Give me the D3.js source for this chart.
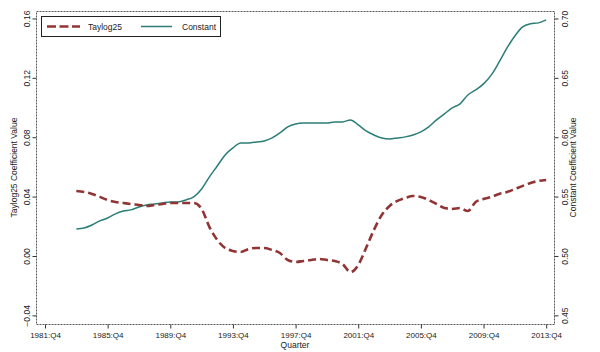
<!DOCTYPE html>
<html>
<head>
<meta charset="utf-8">
<script src="https://cdn.jsdelivr.net/npm/d3@7"></script>
<style>
  body { margin: 0; background: #fff; }
  text { font-family: "Liberation Sans", Arial, sans-serif; fill: #222; }
</style>
</head>
<body>
<script>
var w = 600;
var h = 352;

// half-yearly observations, 1983:Q4 through 2013:Q4 (Q4 and Q2 of each year)
var firstQuarter = "1983:Q4";
var taylog25 = [
  0.0438, 0.0431, 0.0418, 0.0398, 0.0377, 0.0364, 0.0357, 0.0350, 0.0344, 0.0337,
  0.0344, 0.0350, 0.0357, 0.0357, 0.0357, 0.0357, 0.0317, 0.0195, 0.0108, 0.0054,
  0.0034, 0.0027, 0.0047, 0.0054, 0.0054, 0.0040, 0.0020, -0.0027, -0.0040, -0.0034,
  -0.0027, -0.0020, -0.0027, -0.0034, -0.0054, -0.0108, -0.0061, 0.0054, 0.0175, 0.0276,
  0.0337, 0.0371, 0.0391, 0.0404, 0.0398, 0.0377, 0.0350, 0.0323, 0.0317, 0.0323,
  0.0303, 0.0364, 0.0384, 0.0398, 0.0418, 0.0431, 0.0451, 0.0472, 0.0492, 0.0505,
  0.0512
];
var constant = [
  0.5227, 0.5236, 0.5261, 0.5295, 0.5320, 0.5354, 0.5379, 0.5388, 0.5413, 0.5430,
  0.5438, 0.5447, 0.5455, 0.5455, 0.5472, 0.5497, 0.5564, 0.5666, 0.5758, 0.5851,
  0.5910, 0.5952, 0.5952, 0.5960, 0.5969, 0.5994, 0.6036, 0.6087, 0.6112, 0.6120,
  0.6120, 0.6120, 0.6120, 0.6129, 0.6129, 0.6146, 0.6104, 0.6053, 0.6019, 0.5994,
  0.5986, 0.5994, 0.6003, 0.6019, 0.6045, 0.6087, 0.6146, 0.6196, 0.6247, 0.6281,
  0.6356, 0.6398, 0.6449, 0.6525, 0.6634, 0.6752, 0.6853, 0.6929, 0.6955, 0.6963,
  0.6988
];

var xTickLabels = ["1981:Q4", "1985:Q4", "1989:Q4", "1993:Q4", "1997:Q4",
                   "2001:Q4", "2005:Q4", "2009:Q4", "2013:Q4"];
var leftTicks = [-0.04, 0.00, 0.04, 0.08, 0.12, 0.16];
var rightTicks = [0.45, 0.50, 0.55, 0.60, 0.65, 0.70];

// quarter string -> number of quarters since 1981:Q4
function qIndex(s) {
  var p = s.split(":Q");
  return (+p[0] - 1981) * 4 + (+p[1] - 4);
}

var q0 = qIndex(firstQuarter);
var dataset = taylog25.map(function(v, i) {
  return { q: q0 + i * 2, taylog: v, constant: constant[i] };
});

var pLeft = 36, pRight = 554, pTop = 11, pBottom = 324;

var svg = d3.select("body").append("svg")
  .attr("width", w)
  .attr("height", h);

var xScale = d3.scaleLinear()
  .domain([-2.3, 130])
  .range([pLeft, pRight]);

var yLeft = d3.scaleLinear()
  .domain([-0.0458, 0.1650])
  .range([pBottom, pTop]);

var yRight = d3.scaleLinear()
  .domain([0.4427, 0.7063])
  .range([pBottom, pTop]);

// frame
svg.append("rect")
  .attr("x", pLeft + 0.5)
  .attr("y", pTop + 0.5)
  .attr("width", pRight - pLeft)
  .attr("height", pBottom - pTop)
  .attr("fill", "none")
  .attr("stroke", "#555")
  .attr("stroke-width", 1)
  .attr("stroke-dasharray", "2,1");

var xAxis = d3.axisBottom(xScale)
  .tickValues(xTickLabels.map(qIndex))
  .tickFormat(function(d, i) { return xTickLabels[i]; })
  .tickSize(4)
  .tickSizeOuter(0);

var gx = svg.append("g")
  .attr("transform", "translate(0," + (pBottom + 0.5) + ")")
  .call(xAxis);
gx.select(".domain").remove();
gx.selectAll("line").attr("stroke", "#333");
gx.selectAll("text")
  .attr("y", 8)
  .style("font-size", "8px");

var yAxisL = d3.axisLeft(yLeft)
  .tickValues(leftTicks)
  .tickFormat(d3.format(".2f"))
  .tickSize(4)
  .tickSizeOuter(0);

var gl = svg.append("g")
  .attr("transform", "translate(" + (pLeft + 0.5) + ",0)")
  .call(yAxisL);
gl.select(".domain").remove();
gl.selectAll("line").attr("stroke", "#333");
gl.selectAll("text")
  .attr("x", 0).attr("dy", 0)
  .attr("text-anchor", "middle")
  .attr("transform", "translate(-7,0) rotate(-90)")
  .style("font-size", "8.5px");

var yAxisR = d3.axisRight(yRight)
  .tickValues(rightTicks)
  .tickFormat(d3.format(".2f"))
  .tickSize(4)
  .tickSizeOuter(0);

var gr = svg.append("g")
  .attr("transform", "translate(" + (pRight + 0.5) + ",0)")
  .call(yAxisR);
gr.select(".domain").remove();
gr.selectAll("line").attr("stroke", "#333");
gr.selectAll("text")
  .attr("x", 0).attr("dy", 0)
  .attr("text-anchor", "middle")
  .attr("transform", "translate(13,0) rotate(-90)")
  .style("font-size", "8.5px");

// lines
var lineTaylog = d3.line()
  .curve(d3.curveMonotoneX)
  .x(function(d) { return xScale(d.q); })
  .y(function(d) { return yLeft(d.taylog); });

var lineConstant = d3.line()
  .curve(d3.curveMonotoneX)
  .x(function(d) { return xScale(d.q); })
  .y(function(d) { return yRight(d.constant); });

svg.append("path")
  .datum(dataset)
  .attr("d", lineConstant)
  .attr("fill", "none")
  .attr("stroke", "#2b7d77")
  .attr("stroke-width", 1.5);

svg.append("path")
  .datum(dataset)
  .attr("d", lineTaylog)
  .attr("fill", "none")
  .attr("stroke", "#913434")
  .attr("stroke-width", 2.6)
  .attr("stroke-dasharray", "8,4");

// axis titles
svg.append("text")
  .attr("x", (pLeft + pRight) / 2)
  .attr("y", 348)
  .attr("text-anchor", "middle")
  .style("font-size", "8.5px")
  .text("Quarter");

svg.append("text")
  .attr("transform", "translate(17," + ((pTop + pBottom) / 2) + ") rotate(-90)")
  .attr("text-anchor", "middle")
  .style("font-size", "8.5px")
  .text("Taylog25 Coefficient Value");

svg.append("text")
  .attr("transform", "translate(576," + ((pTop + pBottom) / 2) + ") rotate(-90)")
  .attr("text-anchor", "middle")
  .style("font-size", "8.5px")
  .text("Constant Coefficient Value");

// legend
var lg = svg.append("g");
lg.append("rect")
  .attr("x", 41.5).attr("y", 16.5)
  .attr("width", 179).attr("height", 20)
  .attr("fill", "#fff")
  .attr("stroke", "#222")
  .attr("stroke-width", 1);

lg.append("line")
  .attr("x1", 47).attr("x2", 80)
  .attr("y1", 26.5).attr("y2", 26.5)
  .attr("stroke", "#913434")
  .attr("stroke-width", 2.6)
  .attr("stroke-dasharray", "9,3.5");

lg.append("text")
  .attr("x", 88).attr("y", 29.5)
  .style("font-size", "8.5px")
  .text("Taylog25");

lg.append("line")
  .attr("x1", 141).attr("x2", 172)
  .attr("y1", 26.5).attr("y2", 26.5)
  .attr("stroke", "#2b7d77")
  .attr("stroke-width", 1.5);

lg.append("text")
  .attr("x", 182).attr("y", 29.5)
  .style("font-size", "8.5px")
  .text("Constant");
</script>
</body>
</html>
